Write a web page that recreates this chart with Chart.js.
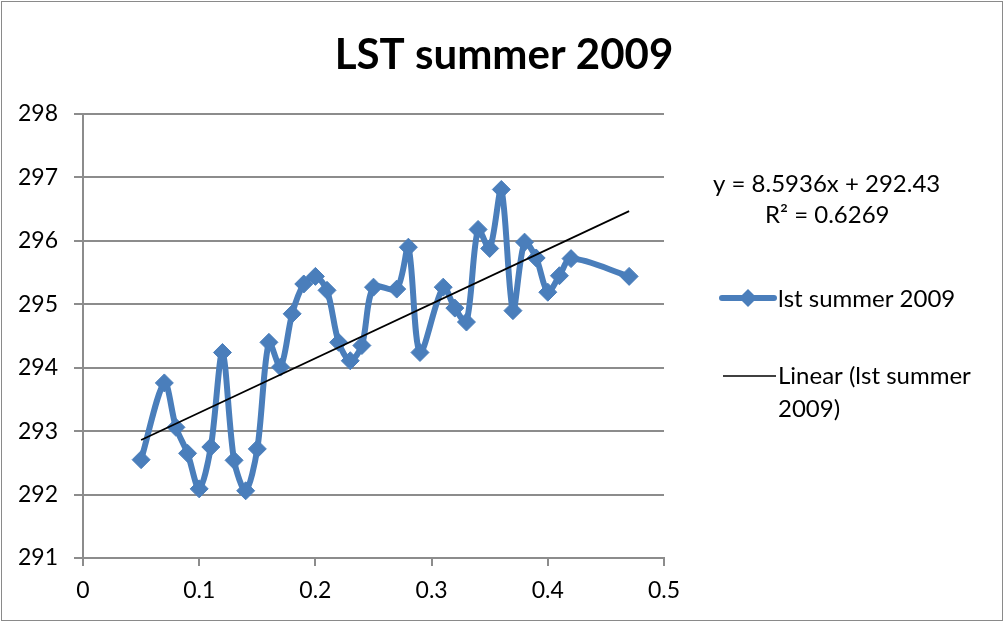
<!DOCTYPE html>
<html>
<head>
<meta charset="utf-8">
<script src="https://cdn.jsdelivr.net/npm/chart.js@4.4.0/dist/chart.umd.min.js"></script>
<style>
  html, body { margin: 0; padding: 0; background: #fff; }
  #wrap { width: 1005px; height: 623px; position: relative; }
</style>
</head>
<body>
<div id="wrap"><canvas id="lstChart" width="1005" height="623"></canvas></div>
<script>
// values
const xValues = [0.05, 0.07, 0.08, 0.09, 0.10, 0.11, 0.12, 0.13, 0.14, 0.15, 0.16, 0.17,
                 0.18, 0.19, 0.20, 0.21, 0.22, 0.23, 0.24, 0.25, 0.27, 0.28, 0.29, 0.31,
                 0.32, 0.33, 0.34, 0.35, 0.36, 0.37, 0.38, 0.39, 0.40, 0.41, 0.42, 0.47];
const lstValues = [292.55, 293.76, 293.06, 292.65, 292.09, 292.75, 294.24, 292.54, 292.06, 292.72, 294.40, 294.01,
                   294.85, 295.32, 295.44, 295.22, 294.40, 294.11, 294.35, 295.27, 295.24, 295.90, 294.24, 295.27,
                   294.94, 294.72, 296.18, 295.88, 296.81, 294.90, 295.98, 295.73, 295.19, 295.45, 295.72, 295.44];
const trendSlope = 8.5936;
const trendIntercept = 292.43;
const xTicks = [0, 0.1, 0.2, 0.3, 0.4, 0.5];
const yTicks = [291, 292, 293, 294, 295, 296, 297, 298];

const seriesName = 'lst summer 2009';
const trendName = 'Linear (lst summer 2009)';
const titleText = 'LST summer 2009';

const FONT = 'Lato, "Open Sans", sans-serif';
const BLUE = '#4a7ebb';
const GRID = '#8c8c8c';

const points = xValues.map((x, i) => ({ x: x, y: lstValues[i] }));
const xFirst = xValues[0];
const xLast = xValues[xValues.length - 1];
const trendPoints = [
    { x: xFirst, y: trendSlope * xFirst + trendIntercept },
    { x: xLast, y: trendSlope * xLast + trendIntercept }
];

// title, equation and legend drawn in the free space on the right
const decorations = {
    id: 'decorations',
    afterDraw(chart) {
        const ctx = chart.ctx;
        ctx.save();
        ctx.strokeStyle = '#8a8a8a';
        ctx.lineWidth = 1;
        ctx.strokeRect(1.5, 1.5, 1001, 619);

        ctx.fillStyle = '#000';
        ctx.textBaseline = 'middle';
        ctx.textAlign = 'center';
        ctx.font = 'bold 42px ' + FONT;
        ctx.fillText(titleText, 504, 55);

        ctx.textAlign = 'left';
        ctx.font = '24px ' + FONT;
        ctx.fillText('y = ' + trendSlope + 'x + ' + trendIntercept, 713, 184);
        ctx.fillText('R\u00b2 = 0.6269', 765, 215);

        // series legend entry
        ctx.strokeStyle = BLUE;
        ctx.lineWidth = 6;
        ctx.lineCap = 'round';
        ctx.beginPath();
        ctx.moveTo(722, 298);
        ctx.lineTo(774, 298);
        ctx.stroke();
        ctx.fillStyle = BLUE;
        ctx.beginPath();
        ctx.moveTo(748, 289);
        ctx.lineTo(757, 298);
        ctx.lineTo(748, 307);
        ctx.lineTo(739, 298);
        ctx.closePath();
        ctx.fill();
        ctx.fillStyle = '#000';
        ctx.fillText(seriesName, 778, 299);

        // trend legend entry
        ctx.strokeStyle = '#000';
        ctx.lineWidth = 1.5;
        ctx.lineCap = 'butt';
        ctx.beginPath();
        ctx.moveTo(723, 376);
        ctx.lineTo(776, 376);
        ctx.stroke();
        ctx.fillText('Linear (lst summer', 778, 376);
        ctx.fillText('2009)', 778, 409);
        ctx.restore();
    }
};

new Chart(document.getElementById('lstChart'), {
    type: 'line',
    data: {
        datasets: [{
            label: seriesName,
            data: points,
            borderColor: BLUE,
            backgroundColor: BLUE,
            borderWidth: 6,
            pointStyle: 'rectRot',
            pointRadius: 9,
            pointBorderWidth: 1,
            pointBorderColor: BLUE,
            pointBackgroundColor: BLUE,
            tension: 0.3,
            order: 2
        }, {
            label: trendName,
            data: trendPoints,
            borderColor: '#000',
            borderWidth: 1.7,
            pointRadius: 0,
            tension: 0,
            order: 1
        }]
    },
    options: {
        responsive: false,
        animation: false,
        layout: { padding: { top: 114, right: 341, left: 0, bottom: 0 } },
        plugins: {
            legend: { display: false },
            tooltip: { enabled: false }
        },
        scales: {
            x: {
                type: 'linear',
                min: xTicks[0],
                max: xTicks[xTicks.length - 1],
                afterBuildTicks: scale => { scale.ticks = xTicks.map(v => ({ value: v })); },
                afterFit: scale => { scale.height = 623 - 558; },
                border: { color: GRID, width: 2 },
                grid: { drawOnChartArea: false, drawTicks: true, tickLength: 8, color: GRID, lineWidth: 2 },
                ticks: {
                    color: '#000',
                    padding: 11,
                    font: { family: FONT, size: 23 },
                    maxRotation: 0,
                    callback: v => String(+v.toFixed(1))
                }
            },
            y: {
                min: yTicks[0],
                max: yTicks[yTicks.length - 1],
                afterBuildTicks: scale => { scale.ticks = yTicks.map(v => ({ value: v })); },
                afterFit: scale => { scale.width = 83; },
                border: { color: GRID, width: 2 },
                grid: { color: GRID, lineWidth: 2, tickLength: 9 },
                ticks: {
                    color: '#000',
                    padding: 16,
                    font: { family: FONT, size: 23 }
                }
            }
        }
    },
    plugins: [decorations]
});
</script>
</body>
</html>
